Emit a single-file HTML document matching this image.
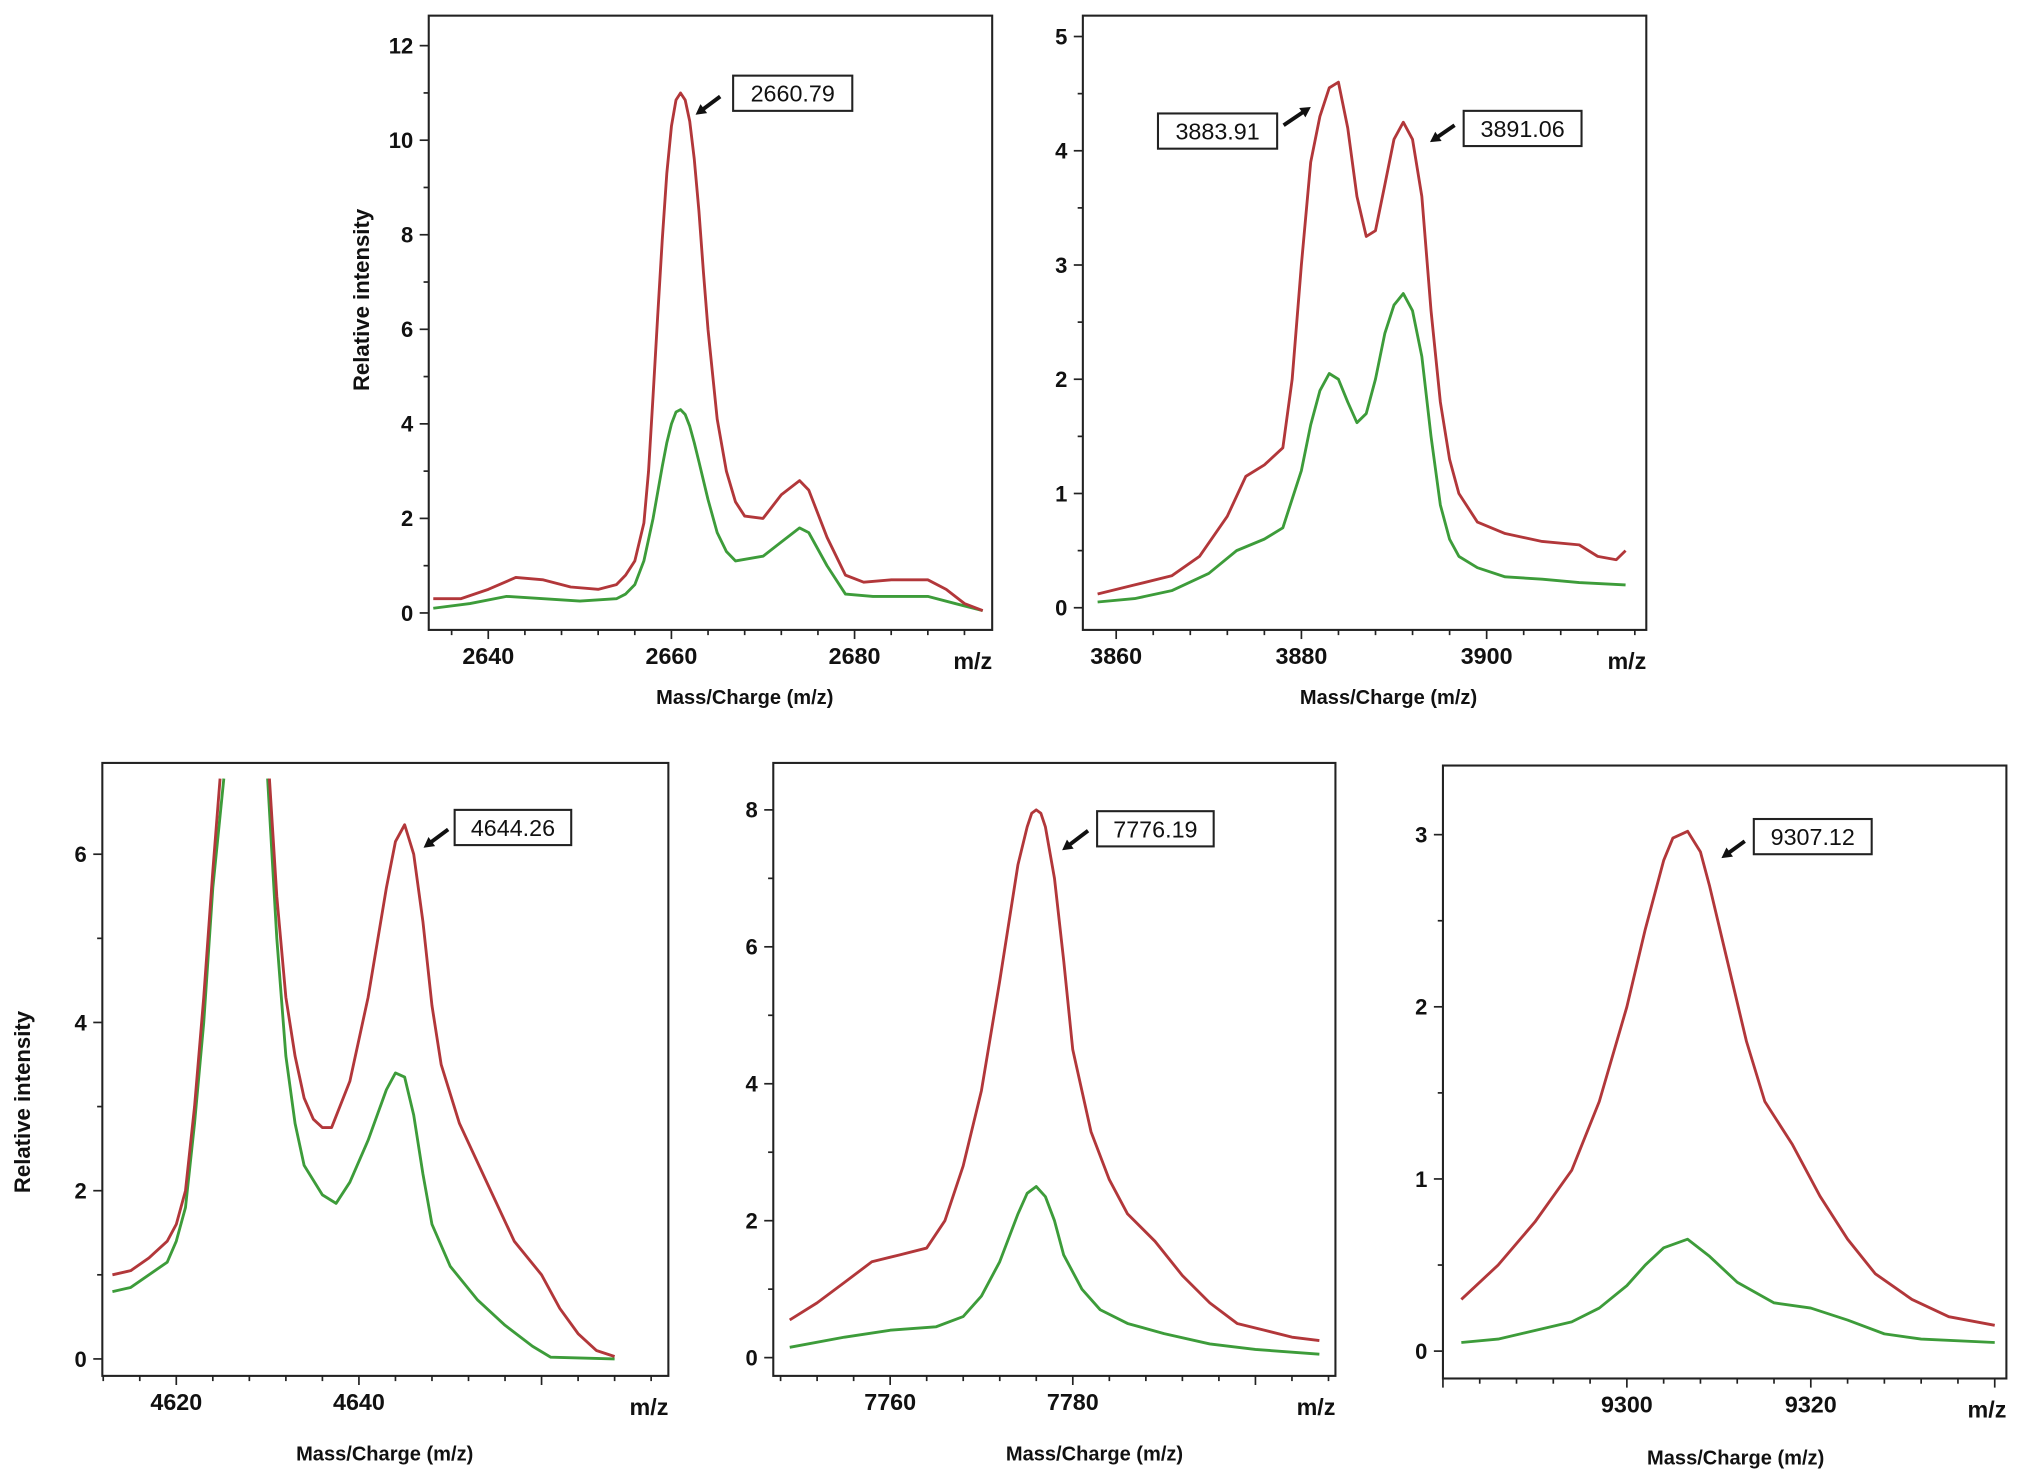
<!DOCTYPE html>
<html><head><meta charset="utf-8"><style>
html,body{margin:0;padding:0;background:#fff;}
svg{display:block;}
text{font-family:"Liberation Sans",Arial,sans-serif;fill:#111;}
</style></head><body>
<svg id="fig" width="2031" height="1475" viewBox="0 0 1568 1131" preserveAspectRatio="none" xmlns="http://www.w3.org/2000/svg"></svg>
<script>
// ---- Panel 1 data ----
const p1RedX = [2634,2637,2640,2643,2646,2649,2652,2654,2655,2656,2657,2657.5,2658,2658.5,2659,2659.5,2660,2660.5,2661,2661.5,2662,2662.5,2663,2663.5,2664,2665,2666,2667,2668,2670,2672,2674,2675,2677,2679,2681,2684,2688,2690,2692,2694];
const p1RedY = [0.3,0.3,0.5,0.75,0.7,0.55,0.5,0.6,0.8,1.1,1.9,3.0,4.6,6.3,7.9,9.3,10.3,10.85,11,10.85,10.4,9.6,8.5,7.2,6.0,4.1,3.0,2.35,2.05,2.0,2.5,2.8,2.6,1.6,0.8,0.65,0.7,0.7,0.5,0.2,0.05];
const p1GreenX = [2634,2638,2642,2646,2650,2654,2655,2656,2657,2658,2659,2659.5,2660,2660.5,2661,2661.5,2662,2662.5,2663,2664,2665,2666,2667,2670,2672,2674,2675,2677,2679,2682,2688,2691,2694];
const p1GreenY = [0.1,0.2,0.35,0.3,0.25,0.3,0.4,0.6,1.1,2.0,3.1,3.6,4.0,4.25,4.3,4.2,3.95,3.6,3.2,2.4,1.7,1.3,1.1,1.2,1.5,1.8,1.7,1.0,0.4,0.35,0.35,0.2,0.05];
const p1XTicks = [2640,2660,2680];
const p1YTicks = [0,2,4,6,8,10,12];
// ---- Panel 2 data ----
const p2RedX = [3858,3862,3866,3869,3872,3874,3876,3878,3879,3880,3881,3882,3883,3884,3885,3886,3887,3888,3889,3890,3891,3892,3893,3894,3895,3896,3897,3899,3902,3906,3910,3912,3914,3915];
const p2RedY = [0.12,0.2,0.28,0.45,0.8,1.15,1.25,1.4,2.0,3.0,3.9,4.3,4.55,4.6,4.2,3.6,3.25,3.3,3.7,4.1,4.25,4.1,3.6,2.6,1.8,1.3,1.0,0.75,0.65,0.58,0.55,0.45,0.42,0.5];
const p2GreenX = [3858,3862,3866,3870,3873,3876,3878,3880,3881,3882,3883,3884,3885,3886,3887,3888,3889,3890,3891,3892,3893,3894,3895,3896,3897,3899,3902,3906,3910,3915];
const p2GreenY = [0.05,0.08,0.15,0.3,0.5,0.6,0.7,1.2,1.6,1.9,2.05,2.0,1.8,1.62,1.7,2.0,2.4,2.65,2.75,2.6,2.2,1.5,0.9,0.6,0.45,0.35,0.27,0.25,0.22,0.2];
const p2XTicks = [3860,3880,3900];
const p2YTicks = [0,1,2,3,4,5];
// ---- Panel 3 data (null = off-scale gap) ----
const p3RedX = [4613,4615,4617,4619,4620,4621,4622,4623,4624,4624.8,null,4630.2,4631,4632,4633,4634,4635,4636,4637,4639,4641,4643,4644,4645,4646,4647,4648,4649,4651,4654,4657,4660,4662,4664,4666,4668];
const p3RedY = [1.0,1.05,1.2,1.4,1.6,2.0,3.0,4.3,5.8,6.9,null,6.9,5.5,4.3,3.6,3.1,2.85,2.75,2.75,3.3,4.3,5.6,6.15,6.35,6.0,5.2,4.2,3.5,2.8,2.1,1.4,1.0,0.6,0.3,0.1,0.03];
const p3GreenX = [4613,4615,4617,4619,4620,4621,4622,4623,4624,4625.2,null,4630,4631,4632,4633,4634,4636,4637.5,4639,4641,4643,4644,4645,4646,4647,4648,4650,4653,4656,4659,4661,4668];
const p3GreenY = [0.8,0.85,1.0,1.15,1.4,1.8,2.8,4.0,5.6,6.9,null,6.9,5.0,3.6,2.8,2.3,1.95,1.85,2.1,2.6,3.2,3.4,3.35,2.9,2.2,1.6,1.1,0.7,0.4,0.15,0.02,0.0];
const p3XTicks = [4620,4640];
const p3YTicks = [0,2,4,6];
// ---- Panel 4 data ----
const p4RedX = [7749,7752,7755,7758,7761,7764,7766,7768,7770,7772,7774,7775,7775.5,7776,7776.5,7777,7778,7779,7780,7782,7784,7786,7789,7792,7795,7798,7801,7804,7807];
const p4RedY = [0.55,0.8,1.1,1.4,1.5,1.6,2.0,2.8,3.9,5.5,7.2,7.75,7.95,8.0,7.95,7.75,7.0,5.8,4.5,3.3,2.6,2.1,1.7,1.2,0.8,0.5,0.4,0.3,0.25];
const p4GreenX = [7749,7755,7760,7765,7768,7770,7772,7774,7775,7776,7777,7778,7779,7781,7783,7786,7790,7795,7800,7807];
const p4GreenY = [0.15,0.3,0.4,0.45,0.6,0.9,1.4,2.1,2.4,2.5,2.35,2.0,1.5,1.0,0.7,0.5,0.35,0.2,0.12,0.05];
const p4XTicks = [7760,7780];
const p4YTicks = [0,2,4,6,8];
// ---- Panel 5 data ----
const p5RedX = [9282,9286,9290,9294,9297,9300,9302,9304,9305,9306.6,9308,9309,9311,9313,9315,9318,9321,9324,9327,9331,9335,9340];
const p5RedY = [0.3,0.5,0.75,1.05,1.45,2.0,2.45,2.85,2.98,3.02,2.9,2.7,2.25,1.8,1.45,1.2,0.9,0.65,0.45,0.3,0.2,0.15];
const p5GreenX = [9282,9286,9290,9294,9297,9300,9302,9304,9306.6,9309,9312,9316,9320,9324,9328,9332,9340];
const p5GreenY = [0.05,0.07,0.12,0.17,0.25,0.38,0.5,0.6,0.65,0.55,0.4,0.28,0.25,0.18,0.1,0.07,0.05];
const p5XTicks = [9300,9320];
const p5YTicks = [0,1,2,3];

const NS = "http://www.w3.org/2000/svg";
const svg = document.getElementById('fig');
function mk(tag, attrs, parent){
  const e = document.createElementNS(NS, tag);
  for (const k in attrs) e.setAttribute(k, attrs[k]);
  (parent||svg).appendChild(e);
  return e;
}
const RED = "#b2373a", GREEN = "#3d9c3a";

function panel(cfg){
  const g = mk('g', {});
  
  
  const sx = v => cfg.L + (v - cfg.x0) * cfg.kx;
  const sy = v => cfg.y0px - v * cfg.ky;
  const box = mk('rect', {x:cfg.L, y:cfg.T, width:cfg.R-cfg.L, height:cfg.B-cfg.T, fill:'none', stroke:'#222', 'stroke-width':1.6}, g);
  
  
  const yt = cfg.yTicks;
  const ystep = yt[1]-yt[0];
  for (let v = yt[0]; v <= yt[yt.length-1] + 1e-9; v += ystep/2){
    const major = Math.abs((v - yt[0]) / ystep - Math.round((v - yt[0]) / ystep)) < 1e-6;
    mk('line', {x1:cfg.L, x2:cfg.L-(major?7:4), y1:sy(v), y2:sy(v), stroke:'#222', 'stroke-width':1.3}, g);
  }
  yt.forEach(v=>{
    const t = mk('text', {x:cfg.L-12, y:sy(v)+6, 'text-anchor':'end', 'font-size':17, 'font-weight':'bold'}, g);
    t.textContent = v;
    
    
  });
  const xt = cfg.xTicks;
  const xmin = cfg.x0, xmax = cfg.x0 + (cfg.R-cfg.L)/cfg.kx;
  for (let v = Math.ceil(xmin/4)*4; v <= xmax; v += 4){
    const major = v % 20 === 0;
    mk('line', {x1:sx(v), x2:sx(v), y1:cfg.B, y2:cfg.B+(major?7:4), stroke:'#222', 'stroke-width':1.3}, g);
  }
  xt.forEach(v=>{
    const t = mk('text', {x:sx(v), y:cfg.B+26, 'text-anchor':'middle', 'font-size':18, 'font-weight':'bold'}, g);
    t.textContent = v;
    
    
  });
  const mz = mk('text', {x:cfg.R, y:cfg.B+30, 'text-anchor':'end', 'font-size':18, 'font-weight':'bold'}, g);
  mz.textContent = 'm/z';
  
  
  const xtitle = mk('text', {x:cfg.titleX, y:cfg.titleY, 'text-anchor':'middle', 'font-size':15.5, 'font-weight':'bold'}, g);
  xtitle.textContent = 'Mass/Charge  (m/z)';
  
  
  if (cfg.yTitle){
    const yT = mk('text', {x:0, y:0, transform:`translate(${cfg.yTitle[0]},${cfg.yTitle[1]}) rotate(-90)`, 'text-anchor':'middle', 'font-size':17, 'font-weight':'bold'}, g);
    yT.textContent = 'Relative intensity';
    
    
  }
  function series(xs, ys, color, nm){
    let d = '', pen = false;
    for (let i=0;i<xs.length;i++){
      if (xs[i]===null || ys[i]===null){ pen=false; continue; }
      d += (pen?'L':'M') + sx(xs[i]).toFixed(1) + ',' + sy(ys[i]).toFixed(1);
      pen = true;
    }
    const p = mk('path', {d:d, fill:'none', stroke:color, 'stroke-width':2.2, 'stroke-linejoin':'round'}, g);
    
    
  }
  series(cfg.gx, cfg.gy, GREEN, 'green-spectrum-line');
  series(cfg.rx, cfg.ry, RED, 'red-spectrum-line');
  cfg.labels.forEach(a=>{
    const r = mk('rect', {x:a.bx, y:a.by, width:a.bw, height:27, fill:'#fff', stroke:'#222', 'stroke-width':1.6}, g);
    
    
    const t = mk('text', {x:a.bx+a.bw/2, y:a.by+20, 'text-anchor':'middle', 'font-size':18}, g);
    t.textContent = a.text;
    
    
    const [x1,y1,x2,y2] = a.arrow;
    const ang = Math.atan2(y2-y1, x2-x1), hl = 9;
    mk('line', {x1:x1, y1:y1, x2:x2-Math.cos(ang)*5, y2:y2-Math.sin(ang)*5, stroke:'#111', 'stroke-width':3}, g);
    const hp = mk('polygon', {points:`${x2},${y2} ${x2-hl*Math.cos(ang-0.5)},${y2-hl*Math.sin(ang-0.5)} ${x2-hl*Math.cos(ang+0.5)},${y2-hl*Math.sin(ang+0.5)}`, fill:'#111'}, g);
    
    
  });
}

panel({name:'panel-2660', L:331,R:766,T:12,B:483, x0:2633.5, kx:7.07, y0px:470, ky:36.25,
  xTicks:p1XTicks, yTicks:p1YTicks, rx:p1RedX, ry:p1RedY, gx:p1GreenX, gy:p1GreenY,
  titleX:575, titleY:540, yTitle:[285,230],
  labels:[{text:'2660.79', bx:566, by:58, bw:92, arrow:[556,74,537,88]}]});
panel({name:'panel-3883', L:836,R:1271,T:12,B:483, x0:3856.4, kx:7.15, y0px:466, ky:87.6,
  xTicks:p2XTicks, yTicks:p2YTicks, rx:p2RedX, ry:p2RedY, gx:p2GreenX, gy:p2GreenY,
  titleX:1072, titleY:540,
  labels:[{text:'3883.91', bx:894, by:87, bw:92, arrow:[991,96,1012,82]},
          {text:'3891.06', bx:1130, by:85, bw:91, arrow:[1123,96,1104,109]}]});
panel({name:'panel-4644', L:79,R:516,T:585,B:1055, x0:4611.9, kx:7.05, y0px:1042, ky:64.5,
  xTicks:p3XTicks, yTicks:p3YTicks, rx:p3RedX, ry:p3RedY, gx:p3GreenX, gy:p3GreenY,
  titleX:297, titleY:1120, yTitle:[23,845],
  labels:[{text:'4644.26', bx:351, by:621, bw:90, arrow:[346,636,327,650]}]});
panel({name:'panel-7776', L:597,R:1031,T:585,B:1055, x0:7747.2, kx:7.05, y0px:1041, ky:52.5,
  xTicks:p4XTicks, yTicks:p4YTicks, rx:p4RedX, ry:p4RedY, gx:p4GreenX, gy:p4GreenY,
  titleX:845, titleY:1120,
  labels:[{text:'7776.19', bx:847, by:622, bw:90, arrow:[840,637,820,652]}]});
panel({name:'panel-9307', L:1114,R:1549,T:587,B:1057, x0:9280, kx:7.1, y0px:1036, ky:132,
  xTicks:p5XTicks, yTicks:p5YTicks, rx:p5RedX, ry:p5RedY, gx:p5GreenX, gy:p5GreenY,
  titleX:1340, titleY:1123,
  labels:[{text:'9307.12', bx:1354, by:628, bw:91, arrow:[1347,645,1329,658]}]});
</script>
</body></html>
